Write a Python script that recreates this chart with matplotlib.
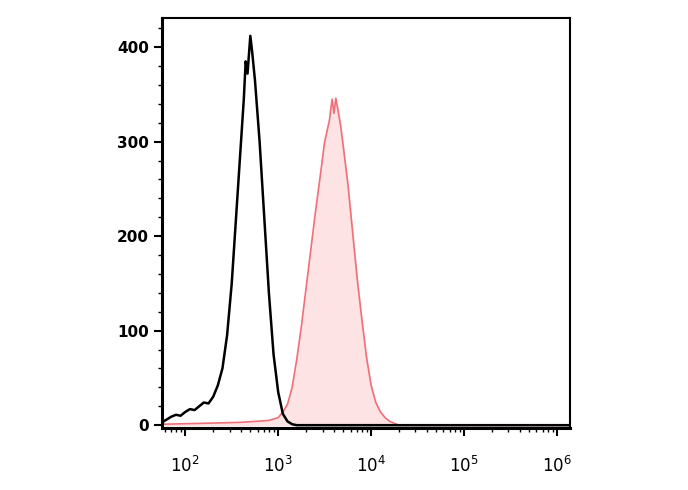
import numpy as np
import matplotlib.pyplot as plt
from matplotlib.ticker import LogLocator, MultipleLocator

# log10 channel positions and counts
black_log = [1.75, 1.80, 1.85, 1.90, 1.95, 2.00, 2.05, 2.10, 2.15, 2.20, 2.25, 2.30, 2.35, 2.40,
             2.45, 2.50, 2.55, 2.60, 2.63, 2.65, 2.67, 2.70, 2.72, 2.75, 2.80, 2.85, 2.90, 2.95,
             3.00, 3.05, 3.10, 3.15, 3.20, 4.0, 6.14]
black_cnt = [3, 6, 9, 11, 10, 14, 17, 16, 20, 24, 23, 30, 42, 60,
             95, 150, 225, 300, 345, 385, 372, 412, 395, 365, 300, 220, 140, 75,
             35, 12, 4, 1, 0, 0, 0]

red_log = [1.75, 2.20, 2.60, 2.90, 3.00, 3.05, 3.10, 3.15, 3.20, 3.25, 3.30, 3.35, 3.40, 3.45,
           3.50, 3.55, 3.58, 3.60, 3.62, 3.64, 3.67, 3.70, 3.75, 3.80, 3.85, 3.90, 3.95, 4.00,
           4.05, 4.10, 4.15, 4.20, 4.25, 4.30, 5.0, 6.14]
red_cnt = [1, 2, 3, 5, 8, 14, 22, 40, 70, 105, 145, 185, 225, 262,
           300, 322, 345, 330, 346, 335, 318, 295, 255, 205, 155, 112, 72, 42,
           24, 14, 8, 4, 2, 0, 0, 0]

fig = plt.figure(figsize=(6.88, 4.90), dpi=100)
ax = fig.add_axes([0.2355, 0.1265, 0.593, 0.837])

bx = 10 ** np.array(black_log)
rx = 10 ** np.array(red_log)
ax.fill_between(rx, red_cnt, color='#fde3e3', zorder=1)
ax.plot(rx, red_cnt, color='#f0707a', lw=1.2, zorder=2)
ax.plot(bx, black_cnt, color='black', lw=1.8, zorder=3)

ax.set_xscale('log')
ax.set_xlim(10 ** 1.75, 10 ** 6.14)
ax.set_ylim(-3, 431)
ax.set_xticks([1e2, 1e3, 1e4, 1e5, 1e6])
ax.xaxis.set_minor_locator(LogLocator(base=10, subs=np.arange(2, 10)))
ax.set_yticks([0, 100, 200, 300, 400])
ax.yaxis.set_minor_locator(MultipleLocator(20))
ax.tick_params(axis='both', direction='out', width=1.5, length=6, labelsize=11)
ax.tick_params(axis='x', pad=14, labelsize=12)
ax.tick_params(axis='both', which='minor', direction='out', width=1, length=3)
for lbl in ax.get_yticklabels():
    lbl.set_fontweight('bold')
for sp in ax.spines.values():
    sp.set_linewidth(1.5)
ax.spines['left'].set_linewidth(2.2)
ax.spines['bottom'].set_linewidth(2.2)

fig.savefig('out.png', dpi=100)
